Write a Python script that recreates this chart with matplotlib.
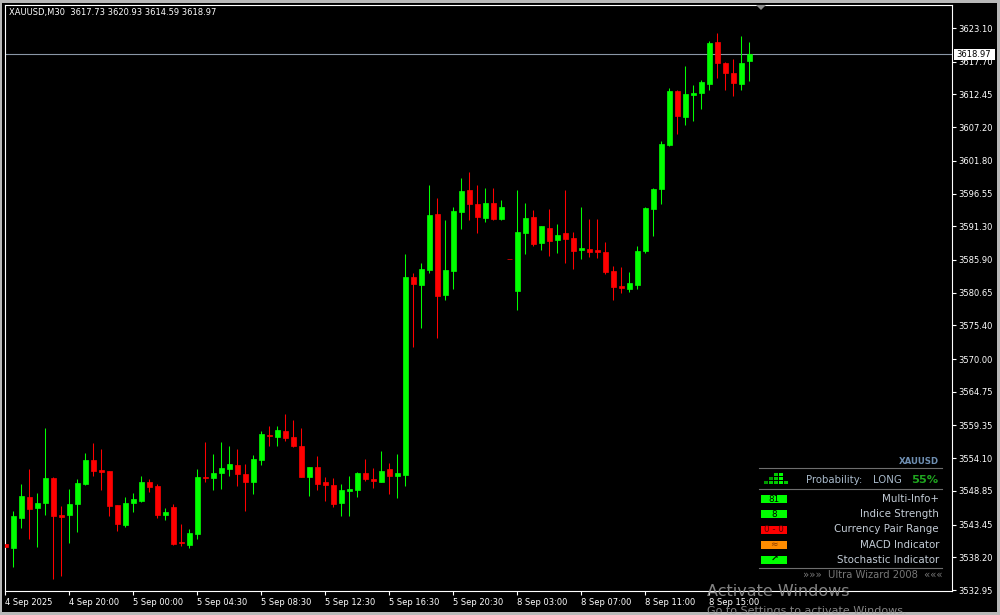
import matplotlib
matplotlib.use("Agg")
import matplotlib.pyplot as plt
from matplotlib.patches import Rectangle, Polygon
from matplotlib.lines import Line2D

# ---------------- data ----------------
symbol_header = "XAUUSD,M30  3617.73 3620.93 3614.59 3618.97"
last_price = 3618.97

opens = [3540.33, 3539.74, 3544.55, 3547.82, 3546.16, 3546.96, 3550.87, 3544.98, 3545.03, 3546.80,
         3549.96, 3553.81, 3552.20, 3552.04, 3546.59, 3543.33, 3546.91, 3547.23, 3550.28, 3549.69,
         3544.98, 3546.27, 3540.65, 3540.22, 3541.99, 3551.08, 3550.97, 3551.77, 3552.41, 3553.00,
         3551.61, 3550.33, 3553.86, 3557.87, 3557.55, 3558.46, 3557.50, 3556.05, 3551.13, 3552.68,
         3550.33, 3549.80, 3546.96, 3548.88, 3549.04, 3551.72, 3550.76, 3550.33, 3552.36, 3551.29,
         3551.40, 3583.16, 3581.88, 3584.33, 3593.26, 3580.32, 3584.17, 3593.64, 3597.11, 3594.87,
         3592.67, 3595.03, 3592.51, 3586.00, 3580.91, 3590.27, 3592.78, 3588.66, 3591.02, 3589.14,
         3590.22, 3589.41, 3587.54, 3587.65, 3587.49, 3587.17, 3584.12, 3581.72, 3581.28, 3581.93,
         3587.38, 3594.07, 3597.27, 3604.33, 3612.99, 3608.87, 3612.40, 3612.72, 3614.17, 3620.85,
         3617.48, 3615.88, 3614.17, 3617.73]
highs = [3542.05, 3545.68, 3549.96, 3552.36, 3548.51, 3558.99, 3551.03, 3546.43, 3549.15, 3550.71,
         3554.93, 3556.53, 3555.57, 3552.04, 3546.59, 3547.82, 3548.56, 3551.24, 3550.71, 3549.96,
         3546.06, 3546.75, 3543.54, 3542.74, 3552.36, 3556.74, 3554.82, 3556.69, 3556.10, 3555.57,
         3553.21, 3554.61, 3558.46, 3559.26, 3559.26, 3561.18, 3560.22, 3558.94, 3552.68, 3554.45,
         3551.03, 3550.87, 3549.96, 3551.24, 3551.93, 3553.97, 3552.52, 3555.25, 3553.37, 3554.77,
         3586.85, 3583.80, 3585.40, 3597.92, 3595.83, 3592.30, 3594.39, 3599.04, 3600.00, 3597.92,
         3597.43, 3597.43, 3595.51, 3586.00, 3597.11, 3595.03, 3593.91, 3591.34, 3594.07, 3591.66,
         3597.11, 3590.38, 3594.39, 3592.46, 3592.46, 3588.77, 3584.92, 3584.76, 3583.96, 3588.13,
         3594.39, 3597.43, 3604.97, 3613.47, 3613.15, 3617.00, 3613.96, 3614.76, 3621.01, 3622.30,
         3617.65, 3618.13, 3621.82, 3620.93]
lows = [3536.43, 3536.69, 3542.95, 3541.18, 3539.90, 3544.98, 3534.77, 3535.25, 3540.54, 3542.31,
        3549.80, 3551.29, 3549.04, 3544.87, 3542.47, 3543.11, 3545.47, 3547.12, 3548.72, 3544.55,
        3544.23, 3540.22, 3540.01, 3539.69, 3541.18, 3550.28, 3549.04, 3549.15, 3551.29, 3549.69,
        3545.63, 3548.40, 3553.05, 3556.10, 3556.10, 3556.90, 3555.89, 3551.03, 3548.03, 3548.99,
        3547.28, 3546.32, 3544.87, 3544.87, 3547.92, 3550.49, 3549.31, 3550.33, 3548.40, 3547.76,
        3549.64, 3571.98, 3575.03, 3583.85, 3573.42, 3579.52, 3581.28, 3590.91, 3592.35, 3590.27,
        3592.03, 3592.35, 3592.35, 3586.00, 3577.79, 3586.90, 3588.18, 3587.54, 3586.58, 3587.06,
        3585.45, 3584.49, 3586.10, 3586.42, 3586.26, 3583.69, 3579.52, 3580.64, 3580.80, 3581.28,
        3587.06, 3589.79, 3594.92, 3604.17, 3606.15, 3607.59, 3608.23, 3610.16, 3613.20, 3615.13,
        3613.20, 3612.24, 3613.20, 3614.59]
closes = [3539.90, 3544.82, 3548.03, 3546.00, 3546.91, 3550.92, 3544.87, 3544.71, 3546.75, 3550.12,
          3553.81, 3552.04, 3551.88, 3546.48, 3543.59, 3546.91, 3547.55, 3550.28, 3549.48, 3545.03,
          3545.47, 3540.38, 3540.44, 3542.05, 3551.03, 3550.92, 3551.72, 3552.52, 3553.21, 3551.61,
          3550.33, 3553.97, 3557.98, 3557.61, 3558.62, 3557.38, 3556.10, 3551.13, 3552.68, 3550.01,
          3549.85, 3546.80, 3548.99, 3549.15, 3551.72, 3550.76, 3550.49, 3552.04, 3551.29, 3551.72,
          3583.16, 3582.09, 3584.44, 3593.10, 3580.16, 3584.28, 3593.75, 3596.95, 3594.92, 3592.83,
          3595.03, 3592.51, 3594.39, 3586.00, 3590.38, 3592.62, 3588.50, 3591.34, 3588.98, 3589.90,
          3589.30, 3587.38, 3587.81, 3587.22, 3587.22, 3584.01, 3581.61, 3581.44, 3582.20, 3587.33,
          3594.23, 3597.27, 3604.49, 3612.99, 3609.03, 3612.51, 3612.67, 3614.44, 3620.69, 3617.53,
          3615.93, 3614.33, 3617.48, 3618.97]

y_ticks = [3623.10, 3617.70, 3612.45, 3607.20, 3601.80, 3596.55, 3591.30, 3585.90, 3580.65,
           3575.40, 3570.00, 3564.75, 3559.35, 3554.10, 3548.85, 3543.45, 3538.20, 3532.95]
x_tick_bars = [0, 8, 16, 24, 32, 40, 48, 56, 64, 72, 80, 88]
x_tick_labels = ["4 Sep 2025", "4 Sep 20:00", "5 Sep 00:00", "5 Sep 04:30", "5 Sep 08:30",
                 "5 Sep 12:30", "5 Sep 16:30", "5 Sep 20:30", "8 Sep 03:00", "8 Sep 07:00",
                 "8 Sep 11:00", "8 Sep 15:00"]

panel_symbol = "XAUUSD"
panel_prob_label = "Probability:"
panel_prob_dir = "LONG"
panel_prob_value = "55%"
panel_rows = ["Multi-Info+", "Indice Strength", "Currency Pair Range", "MACD Indicator", "Stochastic Indicator"]
panel_badges = ["81", "8", "0 - 0", "≈", "↗"]
panel_badge_colors = ["#00ff00", "#00ff00", "#ff0000", "#ff8c00", "#00ff00"]
panel_badge_text_colors = ["#000000", "#000000", "#5a0000", "#8a3a00", "#000000"]
panel_footer = "»»»  Ultra Wizard 2008  «««"

BULL = "#00ff00"
BEAR = "#ff0000"

W, H = 1000, 615
def fx(x):
    return x / W
def fy(y):
    return 1 - y / H

plt.rcParams['font.family'] = ['DejaVu Sans']
fig = plt.figure(figsize=(10, 6.15), dpi=100, facecolor="black")

# plot area: px x 5..952, y 4.5..591
ax = fig.add_axes([fx(5), fy(591), (952 - 5) / W, (591 - 4.5) / H])
ax.set_facecolor("black")

n = len(opens)
xs = list(range(n))
for i in xs:
    o, h, l, c = opens[i], highs[i], lows[i], closes[i]
    col = BULL if c > o else BEAR
    ax.vlines(i, l, h, color=col, linewidth=0.75, zorder=2)
    ax.bar(i, abs(c - o), bottom=min(o, c), width=0.56, color=col, edgecolor=col,
           linewidth=0.5, zorder=3)

ax.set_xlim((5 - 5.3) / 8, (952 - 5.3) / 8)
ax.set_ylim(3532.79, 3626.87)

# current price line
ax.axhline(last_price, color="#8a96a6", linewidth=0.8, zorder=1)

for s in ax.spines.values():
    s.set_color("white")
    s.set_linewidth(0.8)

ax.yaxis.tick_right()
ax.set_yticks(y_ticks)
ax.set_yticklabels([f"{v:.2f}" for v in y_ticks])
ax.set_xticks(x_tick_bars)
ax.set_xticklabels(x_tick_labels)
for lab in ax.get_xticklabels():
    lab.set_horizontalalignment("left")
ax.tick_params(axis="y", direction="out", length=3, width=0.8, color="white",
               labelcolor="white", labelsize=6, pad=1.5)
ax.tick_params(axis="x", direction="out", length=3, width=0.8, color="white",
               labelcolor="white", labelsize=6, pad=2)

# header
fig.text(fx(9), fy(12), symbol_header, color="white", fontsize=6, va="center", ha="left")

# price label box
fig.add_artist(Rectangle((fx(954), fy(59.5)), 41 / W, 10.5 / H, transform=fig.transFigure,
                         facecolor="white", edgecolor="none", zorder=10))
fig.text(fx(956.5), fy(54.5), f"{last_price:.2f}", color="black", fontsize=6, va="center",
         ha="left", zorder=11)

# shift marker triangle
fig.add_artist(Polygon([(fx(756), fy(5)), (fx(766), fy(5)), (fx(761), fy(10))],
                       closed=True, transform=fig.transFigure, facecolor="#8c8c8c",
                       edgecolor="none", zorder=10))

# window frame
frame_col = "#b8b8b8"
fig.add_artist(Rectangle((0, fy(3)), 1, 3 / H, transform=fig.transFigure, facecolor=frame_col, edgecolor="none"))
fig.add_artist(Rectangle((0, 0), 1, 3 / H, transform=fig.transFigure, facecolor=frame_col, edgecolor="none"))
fig.add_artist(Rectangle((0, 0), 2 / W, 1, transform=fig.transFigure, facecolor=frame_col, edgecolor="none"))
fig.add_artist(Rectangle((fx(997), 0), 3 / W, 1, transform=fig.transFigure, facecolor=frame_col, edgecolor="none"))

# ---------------- info panel ----------------
sep_col = "#6e6e6e"
for yy in (468.3, 489.3, 568):
    fig.add_artist(Line2D([fx(759), fx(942)], [fy(yy), fy(yy)], transform=fig.transFigure,
                          color=sep_col, linewidth=0.8, zorder=10))

fig.text(fx(938.5), fy(461.5), panel_symbol, color="#6f8fb2", fontsize=6.2, fontweight="bold",
         ha="right", va="center", zorder=11)

# little signal icon (rows of small squares)
icon_cells = [(2, 0), (3, 0), (1, 1), (2, 1), (3, 1), (0, 2), (1, 2), (2, 2), (3, 2), (4, 2)]
icon_cols = ["#00c800", "#00ff00", "#009a00", "#00c800", "#00ff00", "#009a00", "#00c800",
             "#00c800", "#00ff00", "#00c800"]
for (cx, cy), cc in zip(icon_cells, icon_cols):
    x0 = 764 + cx * 5
    y_top = 473 + cy * 4
    fig.add_artist(Rectangle((fx(x0), fy(y_top + 3)), 4 / W, 3 / H,
                             transform=fig.transFigure, facecolor=cc, edgecolor="none", zorder=11))

fig.text(fx(806), fy(480), panel_prob_label, color="#a9bacb", fontsize=7.3, ha="left",
         va="center", zorder=11)
fig.text(fx(872.5), fy(480), panel_prob_dir, color="#a9bacb", fontsize=7.3, ha="left",
         va="center", zorder=11)
fig.text(fx(938.5), fy(480), panel_prob_value, color="#1fa51f", fontsize=8.2, fontweight="bold",
         ha="right", va="center", zorder=11)

row_y = [499.3, 514.3, 529.5, 544.6, 559.6]
for ry, name, badge, bc, tc in zip(row_y, panel_rows, panel_badges, panel_badge_colors,
                                   panel_badge_text_colors):
    fig.add_artist(Rectangle((fx(760.7), fy(ry + 4)), 26.6 / W, 8 / H, transform=fig.transFigure,
                             facecolor=bc, edgecolor="none", zorder=11))
    fs = 6.3 if badge not in ("≈", "↗") else 6.5
    fw = "bold" if badge == "↗" else "normal"
    fig.text(fx(774), fy(ry), badge, color=tc, fontsize=fs, fontweight=fw, ha="center",
             va="center", zorder=12)
    fig.text(fx(939), fy(ry), name, color="#c3ccd6", fontsize=7.4, ha="right", va="center",
             zorder=11)

fig.text(fx(873), fy(575.5), panel_footer, color="#777777", fontsize=7.2, ha="center",
         va="center", zorder=11)

# Windows activation watermark
fig.text(fx(707), fy(592), "Activate Windows", color="#9a9a9a", fontsize=11.5, ha="left",
         va="center", alpha=0.85, zorder=20)
fig.text(fx(707), fy(611), "Go to Settings to activate Windows.", color="#9a9a9a", fontsize=8,
         ha="left", va="center", alpha=0.85, zorder=20)

fig.savefig("out.png", dpi=100, facecolor="black")
